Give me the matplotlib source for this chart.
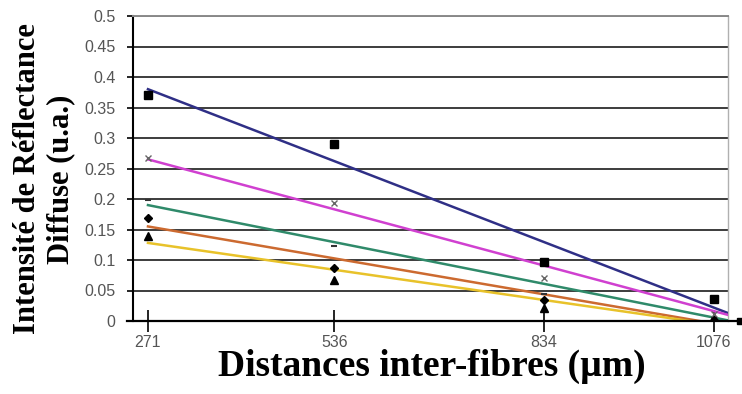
import matplotlib
matplotlib.use("Agg")
import matplotlib.pyplot as plt
import numpy as np

# ---- data ----
distances = [271, 536, 834, 1076]
squares   = [0.370, 0.290, 0.097, 0.036]
crosses   = [0.267, 0.193, 0.070, 0.012]
dashes    = [0.198, 0.123, 0.045, 0.005]
diamonds  = [0.169, 0.087, 0.035, 0.002]
triangles = [0.140, 0.068, 0.022, 0.000]

# trendline values at the ends of the plotted range
trend_x     = [271, 1096]
trend_blue  = [0.380, 0.013]
trend_mag   = [0.265, 0.010]
trend_green = [0.190, 0.001]
trend_orng  = [0.155, -0.008]
trend_yell  = [0.128, -0.009]

y_ticks = [0, 0.05, 0.1, 0.15, 0.2, 0.25, 0.3, 0.35, 0.4, 0.45, 0.5]
y_tick_labels = ["0", "0.05", "0.1", "0.15", "0.2", "0.25", "0.3", "0.35", "0.4", "0.45", "0.5"]
x_tick_labels = ["271", "536", "834", "1076"]

W, H = 742, 394
fig = plt.figure(figsize=(W / 100, H / 100), dpi=100)
L, R, B, T = 133, 728, 321, 16
ax = fig.add_axes([L / W, 1 - B / H, (R - L) / W, (B - T) / H])

ax.set_xlim(249.7, 1096)
ax.set_ylim(0, 0.5)

# gridlines
for yv in y_ticks[1:]:
    ax.axhline(yv, color="#3c3c3c", lw=1.4, zorder=1)

# trendlines
ax.plot(trend_x, trend_blue, color="#2f2f86", lw=1.8, zorder=3)
ax.plot(trend_x, trend_mag, color="#d040d0", lw=1.8, zorder=3)
ax.plot(trend_x, trend_green, color="#2f8a6a", lw=1.8, zorder=3)
ax.plot(trend_x, trend_orng, color="#cc6a30", lw=1.8, zorder=3)
ax.plot(trend_x, trend_yell, color="#e8c22a", lw=1.8, zorder=3)

# data points
ax.plot(distances, squares, ls="none", marker="s", ms=5.5, color="black", zorder=4)
ax.plot(distances, crosses, ls="none", marker="x", ms=5, mew=1, color="#666666", zorder=4)
ax.plot(distances, dashes, ls="none", marker="_", ms=5, mew=1.5, color="#333333", zorder=4)
ax.plot(distances, diamonds, ls="none", marker="D", ms=4, color="black", zorder=4)
ax.plot(distances, triangles, ls="none", marker="^", ms=5.5, color="black", zorder=4)

# axes styling
ax.spines["left"].set_color("black")
ax.spines["left"].set_linewidth(1.5)
ax.spines["bottom"].set_visible(False)
ax.spines["top"].set_color("#8a8a8a")
ax.spines["top"].set_linewidth(1.4)
ax.spines["right"].set_color("#b0b0b0")
ax.spines["right"].set_linewidth(1.0)

# extended x axis line with end marker
ax.plot([-0.01, 1.02], [0, 0], transform=ax.transAxes, color="black", lw=1.6,
        clip_on=False, zorder=5)
ax.plot([1.02], [0], transform=ax.transAxes, marker="s", ms=4, color="black",
        clip_on=False, zorder=5)

ax.set_yticks(y_ticks)
ax.set_yticklabels(y_tick_labels)
ax.set_xticks(distances)
ax.set_xticklabels(x_tick_labels)
ax.tick_params(axis="y", direction="out", length=4.5, width=1.2, color="black",
               labelsize=11.5, labelcolor="#555555", pad=8)
ax.tick_params(axis="x", direction="inout", length=16, width=1.2, color="black",
               labelsize=11.5, labelcolor="#555555", pad=2)
for lab in ax.get_xticklabels() + ax.get_yticklabels():
    lab.set_family("Liberation Sans")

fig.text(44 / W, 1 - 179 / H, "Intensité de Réflectance\nDiffuse (u.a.)",
         rotation=90, ha="center", va="center", multialignment="center",
         family="Liberation Serif", weight="bold", fontsize=22, linespacing=1.2)
fig.text(432 / W, 1 - 366 / H, "Distances inter-fibres (µm)",
         ha="center", va="center", family="Liberation Serif", weight="bold",
         fontsize=27)

fig.savefig("out.png", dpi=100, facecolor="white")
